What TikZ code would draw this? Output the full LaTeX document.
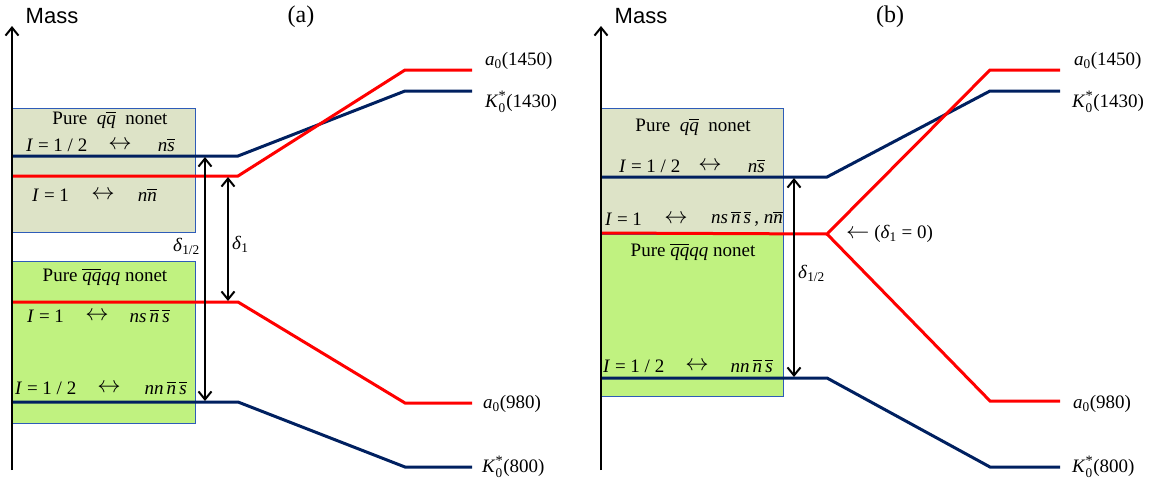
\documentclass[tikz,border=0pt]{standalone}
\usepackage{amsmath}
\usepackage{fontspec}
\setmainfont{Liberation Serif}
\newfontfamily\massfont{Liberation Sans}
\usetikzlibrary{arrows.meta}
\definecolor{navy}{RGB}{0,32,96}
\definecolor{myred}{RGB}{255,0,0}
\definecolor{olivebox}{RGB}{221,227,199}
\definecolor{greenbox}{RGB}{192,242,128}
\definecolor{boxline}{RGB}{46,92,184}
\newcommand{\ovl}[1]{$\overline{\mbox{\textit{#1}}}$}
\newcommand{\Kst}{\textit{K}$_{\text{0}}^{\text{\Large *}}$}
\newcommand{\azero}{\textit{a}$_{\text{0}}$}
\newcommand{\lrar}{\scalebox{1.35}{$\leftrightarrow$}}
\newcommand{\lar}{\scalebox{1.35}{$\leftarrow$}}
\begin{document}
\begin{tikzpicture}[x=1pt,y=-1pt,
  txt/.style={inner sep=0pt, font=\fontsize{19}{22}\selectfont},
  masslbl/.style={inner sep=0pt, font=\massfont\fontsize{22}{26}\selectfont},
  paneltag/.style={inner sep=0pt, font=\fontsize{24}{28}\selectfont},
  lvl/.style={line width=3pt},
  axisline/.style={line width=2.4pt, -{Straight Barb[length=8pt,width=13pt,line width=2pt]}},
  gap/.style={line width=2.2pt, {Straight Barb[length=8pt,width=13pt,line width=2pt]}-{Straight Barb[length=8pt,width=13pt,line width=2pt]}},
  boxq/.style={draw=boxline, line width=0.8pt, fill=olivebox, inner sep=0pt, anchor=north west},
  boxg/.style={draw=boxline, line width=0.8pt, fill=greenbox, inner sep=0pt, anchor=north west},
]
\useasboundingbox (0,0) rectangle (1153,485);

% ================= panel (a) =================
\node[boxq, minimum width=183pt, minimum height=124pt] (aq) at (12,108) {};
\node[boxg, minimum width=183pt, minimum height=162pt] (ag) at (12,261) {};

\coordinate (aB1) at (12,156);  \coordinate (aB2) at (238,156);
\coordinate (aB3) at (405,91);  \coordinate (aB4) at (472,91);
\coordinate (aR1) at (12,176);  \coordinate (aR2) at (238,176);
\coordinate (aR3) at (405,70);  \coordinate (aR4) at (472,70);
\coordinate (ar1) at (12,302);  \coordinate (ar2) at (238,302);
\coordinate (ar3) at (405,403); \coordinate (ar4) at (472,403);
\coordinate (ab1) at (12,402);  \coordinate (ab2) at (238,402);
\coordinate (ab3) at (405,467); \coordinate (ab4) at (472,467);

\draw[navy,lvl] (aB1) -- (aB2) -- (aB3) -- (aB4);
\draw[myred,lvl] (aR1) -- (aR2) -- (aR3) -- (aR4);
\draw[myred,lvl] (ar1) -- (ar2) -- (ar3) -- (ar4);
\draw[navy,lvl] (ab1) -- (ab2) -- (ab3) -- (ab4);

\coordinate (aAxB) at (12,470); \coordinate (aAxT) at (12,26);
\draw[axisline] (aAxB) -- (aAxT);
\node[masslbl] (amass) at (52,16) {Mass};
\node[paneltag] (atag) at (301,17) {(a)};

\coordinate (aD1t) at (205,157); \coordinate (aD1b) at (205,401);
\draw[gap] (aD1t) -- (aD1b);
\coordinate (aD2t) at (228,177); \coordinate (aD2b) at (228,301);
\draw[gap] (aD2t) -- (aD2b);
\node[txt, anchor=east] (adh) at (200,246) {\textit{δ}$_{\text{1/2}}$};
\node[txt, anchor=west] (ad1) at (232,244) {\textit{δ}$_{\text{1}}$};

\node[txt] (aqt) at (110,120) {Pure\ \ \textit{q}\ovl{q}\ \ nonet};
\node[txt, anchor=west] (aq1a) at (26,145) {\textit{I} = 1 / 2};
\node[txt] (aq1b) at (120,145) {\lrar};
\node[txt, anchor=east] (aq1c) at (175,145) {\textit{n}\ovl{s}};
\node[txt, anchor=west] (aq2a) at (32,195) {\textit{I} = 1};
\node[txt] (aq2b) at (103,195) {\lrar};
\node[txt, anchor=east] (aq2c) at (157,195) {\textit{n}\ovl{n}};

\node[txt] (agt) at (105,277) {Pure \ovl{q}\ovl{q}\textit{qq} nonet};
\node[txt, anchor=west] (ag1a) at (27,316) {\textit{I} = 1};
\node[txt] (ag1b) at (97,316) {\lrar};
\node[txt, anchor=east] (ag1c) at (170,316) {\textit{ns}\,\ovl{n}\,\ovl{s}};
\node[txt, anchor=west] (ag2a) at (15,388) {\textit{I} = 1 / 2};
\node[txt] (ag2b) at (109,388) {\lrar};
\node[txt, anchor=east] (ag2c) at (187,388) {\textit{nn}\,\ovl{n}\,\ovl{s}};

\node[txt, anchor=west] (al1) at (485,61) {\azero(1450)};
\node[txt, anchor=west] (al2) at (485,102) {\Kst(1430)};
\node[txt, anchor=west] (al3) at (483,404) {\azero(980)};
\node[txt, anchor=west] (al4) at (482,467) {\Kst(800)};

% ================= panel (b) =================
\node[boxq, minimum width=182pt, minimum height=126pt] (bq) at (601,108) {};
\node[boxg, minimum width=182pt, minimum height=162pt] (bg) at (601,234) {};
\node[draw=boxline, line width=0.8pt, inner sep=0pt, anchor=north west, minimum width=182pt, minimum height=288pt] (bframe) at (601,108) {};

\coordinate (bB1) at (601,177);  \coordinate (bB2) at (827,177);
\coordinate (bB3) at (990,91);   \coordinate (bB4) at (1060,91);
\coordinate (bR1) at (601,233);  \coordinate (bR2) at (827,234);
\coordinate (bR3) at (990,70);   \coordinate (bR4) at (1060,70);
\coordinate (br3) at (990,401);  \coordinate (br4) at (1060,401);
\coordinate (bb1) at (601,378);  \coordinate (bb2) at (827,378);
\coordinate (bb3) at (990,467);  \coordinate (bb4) at (1060,467);

\draw[navy,lvl] (bB1) -- (bB2) -- (bB3) -- (bB4);
\draw[myred,lvl] (bR1) -- (bR2) -- (bR3) -- (bR4);
\draw[myred,lvl] (bR2) -- (br3) -- (br4);
\draw[navy,lvl] (bb1) -- (bb2) -- (bb3) -- (bb4);

\coordinate (bAxB) at (601,470); \coordinate (bAxT) at (601,26);
\draw[axisline] (bAxB) -- (bAxT);
\node[masslbl] (bmass) at (641,16) {Mass};
\node[paneltag] (btag) at (890,17) {(b)};

\coordinate (bDt) at (794,178); \coordinate (bDb) at (794,377);
\draw[gap] (bDt) -- (bDb);
\node[txt, anchor=west] (bdh) at (798,273) {\textit{δ}$_{\text{1/2}}$};
\node[txt, anchor=west] (bd0) at (846,234) {\lar\ (\textit{δ}$_{\text{1}}$ = 0)};

\node[txt] (bqt) at (693,127) {Pure\ \ \textit{q}\ovl{q}\ \ nonet};
\node[txt, anchor=west] (bq1a) at (619,166) {\textit{I} = 1 / 2};
\node[txt] (bq1b) at (710,166) {\lrar};
\node[txt, anchor=east] (bq1c) at (765,166) {\textit{n}\ovl{s}};
\node[txt, anchor=west] (bq2a) at (605,219) {\textit{I} = 1};
\node[txt] (bq2b) at (676,219) {\lrar};
\node[txt, anchor=east] (bq2c) at (783,219) {\textit{ns}\,\ovl{n}\,\ovl{s}\,, \textit{n}\ovl{n}};

\node[txt] (bgt) at (693,252) {Pure \ovl{q}\ovl{q}\textit{qq} nonet};
\node[txt, anchor=west] (bg1a) at (603,366) {\textit{I} = 1 / 2};
\node[txt] (bg1b) at (697,366) {\lrar};
\node[txt, anchor=east] (bg1c) at (773,366) {\textit{nn}\,\ovl{n}\,\ovl{s}};

\node[txt, anchor=west] (bl1) at (1074,61) {\azero(1450)};
\node[txt, anchor=west] (bl2) at (1072,102) {\Kst(1430)};
\node[txt, anchor=west] (bl3) at (1073,404) {\azero(980)};
\node[txt, anchor=west] (bl4) at (1072,467) {\Kst(800)};
\end{tikzpicture}
\end{document}
